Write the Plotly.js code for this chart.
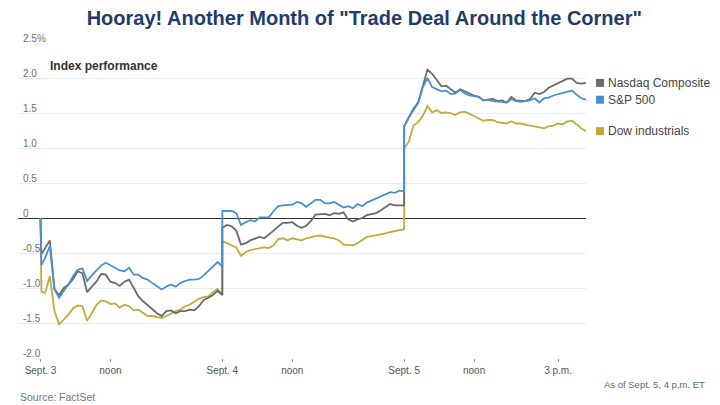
<!DOCTYPE html>
<html>
<head>
<meta charset="utf-8">
<script src="https://cdn.plot.ly/plotly-3.0.1.min.js"></script>
<style>
  html, body { margin: 0; padding: 0; background: #ffffff; }
  #chart { width: 720px; height: 405px; }
</style>
</head>
<body>
<div id="chart"></div>
<script>
// ---- Data (percent change vs. Sept. 3 open) ----
// Time axis: trading minutes since the open of each session (9:30 a.m. = 0, 4 p.m. = 390)
const sept3Minutes = [0, 2, 10, 20, 30, 40, 50, 60, 70, 80, 90, 100, 110, 120, 130, 140, 150, 160, 170, 180, 190, 200, 210, 220, 230, 240, 250, 260, 270, 280, 290, 300, 310, 320, 330, 340, 350, 360, 370, 380, 390];
const sessionMinutes = [0, 10, 20, 30, 40, 50, 60, 70, 80, 90, 100, 110, 120, 130, 140, 150, 160, 170, 180, 190, 200, 210, 220, 230, 240, 250, 260, 270, 280, 290, 300, 310, 320, 330, 340, 350, 360, 370, 380, 390];
const sessionOffsets = [0, 390, 780]; // Sept. 3, Sept. 4, Sept. 5

const nasdaqSept3 = [0, -0.52, -0.43, -0.32, -1.02, -1.10, -1.00, -0.95, -0.87, -0.76, -0.79, -1.06, -0.98, -0.91, -0.80, -0.81, -0.91, -0.93, -0.97, -0.91, -0.88, -1.01, -1.12, -1.19, -1.25, -1.31, -1.36, -1.40, -1.33, -1.32, -1.36, -1.33, -1.33, -1.31, -1.32, -1.26, -1.17, -1.14, -1.10, -1.04, -1.10];
const nasdaqSept4 = [-0.14, -0.10, -0.12, -0.18, -0.38, -0.36, -0.32, -0.29, -0.27, -0.29, -0.24, -0.18, -0.12, -0.07, -0.07, -0.06, -0.11, -0.14, -0.11, -0.04, 0.05, 0.05, 0.06, 0.04, 0.07, 0.06, 0.08, -0.02, -0.05, -0.02, 0.00, 0.04, 0.05, 0.07, 0.11, 0.16, 0.20, 0.18, 0.18, 0.18];
const nasdaqSept5 = [1.31, 1.44, 1.56, 1.65, 1.87, 2.12, 2.06, 1.97, 1.88, 1.89, 1.84, 1.79, 1.84, 1.81, 1.77, 1.75, 1.73, 1.68, 1.69, 1.70, 1.67, 1.68, 1.65, 1.73, 1.68, 1.68, 1.67, 1.70, 1.79, 1.77, 1.80, 1.86, 1.89, 1.93, 1.96, 1.99, 1.99, 1.93, 1.92, 1.93];

const spSept3 = [0, -0.67, -0.57, -0.40, -1.02, -1.14, -1.04, -0.95, -0.83, -0.74, -0.72, -0.90, -0.82, -0.75, -0.68, -0.64, -0.68, -0.72, -0.75, -0.76, -0.71, -0.81, -0.81, -0.86, -0.88, -0.93, -0.97, -1.02, -0.98, -0.95, -0.98, -0.93, -0.90, -0.88, -0.88, -0.87, -0.82, -0.76, -0.70, -0.63, -0.69];
const spSept4 = [0.10, 0.10, 0.10, 0.07, -0.10, -0.06, -0.03, -0.05, 0.01, 0.01, 0.01, 0.10, 0.17, 0.18, 0.18, 0.19, 0.23, 0.21, 0.16, 0.21, 0.26, 0.26, 0.21, 0.21, 0.23, 0.19, 0.15, 0.17, 0.14, 0.20, 0.17, 0.22, 0.25, 0.28, 0.32, 0.35, 0.37, 0.36, 0.39, 0.38];
const spSept5 = [1.31, 1.44, 1.55, 1.64, 1.87, 2.00, 1.87, 1.84, 1.81, 1.82, 1.77, 1.78, 1.83, 1.78, 1.75, 1.74, 1.73, 1.68, 1.69, 1.67, 1.67, 1.66, 1.65, 1.70, 1.67, 1.66, 1.67, 1.68, 1.71, 1.65, 1.71, 1.72, 1.75, 1.77, 1.79, 1.80, 1.82, 1.76, 1.71, 1.69];

const dowSept3 = [0, -1.05, -1.07, -0.83, -1.33, -1.52, -1.45, -1.38, -1.29, -1.25, -1.26, -1.47, -1.36, -1.24, -1.18, -1.19, -1.23, -1.22, -1.28, -1.24, -1.26, -1.32, -1.31, -1.36, -1.40, -1.40, -1.41, -1.43, -1.40, -1.36, -1.33, -1.31, -1.26, -1.24, -1.19, -1.15, -1.13, -1.12, -1.06, -1.01, -1.10];
const dowSept4 = [-0.33, -0.36, -0.39, -0.42, -0.54, -0.49, -0.46, -0.44, -0.43, -0.42, -0.43, -0.39, -0.30, -0.29, -0.32, -0.29, -0.30, -0.32, -0.29, -0.27, -0.26, -0.25, -0.27, -0.28, -0.29, -0.32, -0.38, -0.38, -0.39, -0.36, -0.31, -0.27, -0.26, -0.25, -0.24, -0.22, -0.20, -0.19, -0.17, -0.16];
const dowSept5 = [1.00, 1.09, 1.32, 1.37, 1.46, 1.60, 1.51, 1.54, 1.50, 1.51, 1.50, 1.47, 1.51, 1.52, 1.49, 1.46, 1.43, 1.39, 1.40, 1.40, 1.37, 1.36, 1.35, 1.38, 1.35, 1.35, 1.33, 1.32, 1.31, 1.29, 1.28, 1.31, 1.32, 1.35, 1.34, 1.38, 1.39, 1.34, 1.28, 1.24];

const seriesNames = ["Nasdaq Composite", "S&P 500", "Dow industrials"];

const tickMinutes = [0, 150, 390, 540, 780, 930, 1110];
const tickLabels = ["Sept. 3", "noon", "Sept. 4", "noon", "Sept. 5", "noon", "3 p.m."];
const yTickValues = [-2.0, -1.5, -1.0, -0.5, 0, 0.5, 1.0, 1.5, 2.0, 2.5];
const yTickLabels = ["-2.0", "-1.5", "-1.0", "-0.5", "0", "0.5", "1.0", "1.5", "2.0", "2.5%"];

const chartTitle = 'Hooray! Another Month of "Trade Deal Around the Corner"';
const panelLabel = "Index performance";
const sourceNote = "Source: FactSet";
const asOfNote = "As of Sept. 5, 4 p.m. ET";

// ---- Build ----
const xAll = sept3Minutes.map(m => m + sessionOffsets[0])
  .concat(sessionMinutes.map(m => m + sessionOffsets[1]))
  .concat(sessionMinutes.map(m => m + sessionOffsets[2]));

const colors = ["#6a6a6a", "#4a8fd1", "#bfac38"];
const values = [
  nasdaqSept3.concat(nasdaqSept4, nasdaqSept5),
  spSept3.concat(spSept4, spSept5),
  dowSept3.concat(dowSept4, dowSept5)
];

const drawOrder = [2, 0, 1];
const traces = drawOrder.map(i => ({
  type: "scatter",
  mode: "lines",
  x: xAll,
  y: values[i],
  name: seriesNames[i],
  line: { color: colors[i], width: 1.8 },
  hoverinfo: "skip",
  showlegend: false
}));

const yRange = [-2.0, 2.5];
const lastX = xAll[xAll.length - 1];
const FONT = "Liberation Sans, Arial, sans-serif";

const annotations = [
  { text: panelLabel, xref: "paper", yref: "paper", x: 0.053, y: 0.928,
    xanchor: "left", yanchor: "middle", showarrow: false,
    font: { family: FONT, size: 12, color: "#333333", weight: "bold" } },
  { text: sourceNote, xref: "paper", yref: "paper", x: 0, y: -0.123,
    xanchor: "left", yanchor: "middle", showarrow: false,
    font: { family: FONT, size: 10.5, color: "#777777" } },
  { text: asOfNote, xref: "paper", yref: "paper", x: 1.213, y: -0.084,
    xanchor: "right", yanchor: "middle", showarrow: false,
    font: { family: FONT, size: 9.5, color: "#666666" } }
];
// y tick labels sit just above their gridlines, left-aligned
yTickValues.forEach((v, k) => {
  annotations.push({
    text: yTickLabels[k], xref: "paper", yref: "y", x: 0, y: v,
    xanchor: "left", yanchor: "bottom", xshift: 3, yshift: -3, showarrow: false,
    font: { family: FONT, size: 10, color: "#707070" }
  });
});
const shapes = [];
[0, 1, 2].forEach(i => {
  const lastY = values[i][values[i].length - 1];
  annotations.push({
    text: seriesNames[i], x: lastX, y: lastY, xref: "x", yref: "y",
    xanchor: "left", yanchor: "middle", xshift: 20, showarrow: false,
    font: { family: FONT, size: 12, color: "#444444" }
  });
  shapes.push({
    type: "rect", xref: "paper", yref: "paper",
    xsizemode: "pixel", ysizemode: "pixel",
    xanchor: 1, yanchor: (lastY - yRange[0]) / (yRange[1] - yRange[0]),
    x0: 10, x1: 18, y0: -4, y1: 4,
    fillcolor: colors[i], line: { width: 0 }
  });
});

const layout = {
  width: 720, height: 405,
  margin: { l: 18, r: 134, t: 43, b: 47, pad: 0 },
  paper_bgcolor: "#ffffff", plot_bgcolor: "#ffffff",
  font: { family: FONT, color: "#555555" },
  title: {
    text: "<b>" + chartTitle + "</b>",
    xref: "container", yref: "container", x: 0.506, y: 0.955,
    xanchor: "center", yanchor: "middle",
    font: { family: FONT, size: 20, color: "#1f3c6e" }
  },
  xaxis: {
    range: [-48.2, 1170],
    tickvals: tickMinutes, ticktext: tickLabels,
    ticks: "outside", ticklen: 3, tickwidth: 1, tickcolor: "#999999",
    showgrid: false, zeroline: false, showline: false,
    tickfont: { family: FONT, size: 10, color: "#555555" },
    fixedrange: true
  },
  yaxis: {
    range: yRange,
    tickvals: yTickValues,
    showticklabels: false,
    ticks: "", showline: false,
    showgrid: true, gridcolor: "#ebebeb", gridwidth: 1,
    zeroline: true, zerolinecolor: "#333333", zerolinewidth: 1,
    fixedrange: true
  },
  annotations: annotations,
  shapes: shapes,
  showlegend: false
};

Plotly.newPlot("chart", traces, layout, { staticPlot: true, displayModeBar: false });
</script>
</body>
</html>
